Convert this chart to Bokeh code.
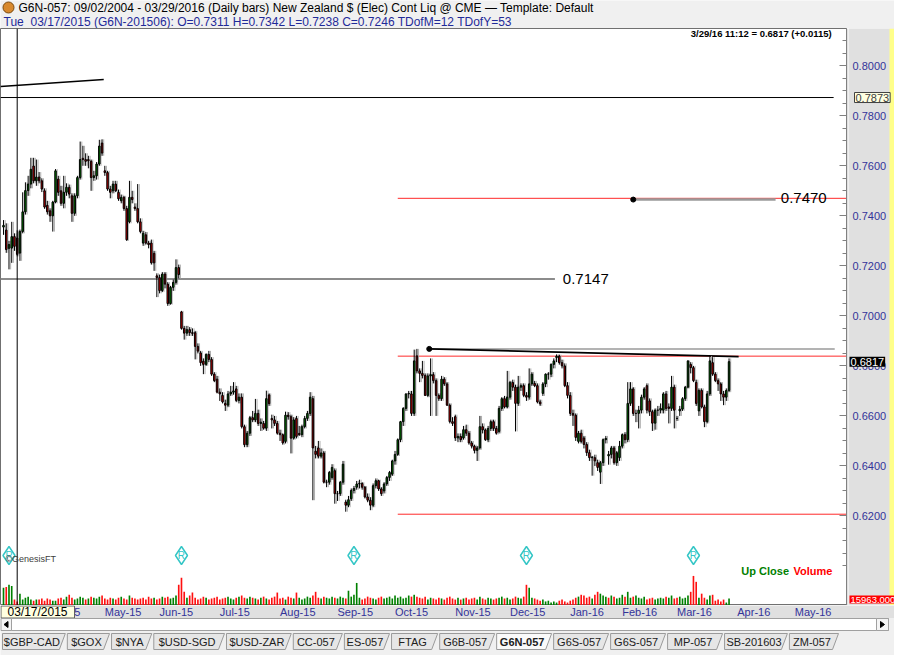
import numpy as np
import pandas as pd
from bokeh.plotting import figure
from bokeh.models import Range1d, FixedTicker, Label, Span, ColumnDataSource
from bokeh.layouts import column, row
from bokeh.core.properties import value
from bokeh.transform import dodge
from bokeh.embed import file_html
from bokeh.resources import INLINE

FONT = "Liberation Sans"

# ---------------- data ----------------
FIRST_DAY = "2015-03-10"
CAL_END = "2016-05-31"
HOLIDAYS = ["2015-04-03", "2015-05-25", "2015-07-03", "2015-09-07", "2015-11-26",
            "2015-12-25", "2016-01-01", "2016-01-18", "2016-02-15", "2016-03-25"]
MONTHS = ["2015-04", "2015-05", "2015-06", "2015-07", "2015-08", "2015-09", "2015-10",
          "2015-11", "2015-12", "2016-01", "2016-02", "2016-03", "2016-04", "2016-05"]
CURSOR_DATE = "2015-03-17"
ROLL_DATES = ["2015-03-12", "2015-06-11", "2015-09-10", "2015-12-09", "2016-03-09"]

# prices in 1/10000
OPEN = [7355,7343,7270,7271,7317,7311,7251,7337,7416,7501,
        7527,7599,7540,7555,7540,7500,7442,7420,7400,7455,
        7547,7500,7450,7494,7514,7480,7410,7480,7553,7630,
        7625,7625,7618,7553,7560,7607,7691,7580,7573,7507,
        7500,7527,7494,7460,7474,7429,7376,7474,7435,7429,
        7376,7291,7324,7291,7291,7250,7160,7153,7101,7167,
        7127,7049,7114,7134,7193,7016,6950,6931,6945,6933,
        6933,6878,6852,6819,6806,6846,6826,6767,6747,6695,
        6682,6650,6643,6688,6695,6708,6662,6675,6557,6485,
        6531,6593,6584,6610,6570,6570,6551,6684,6590,6584,
        6570,6531,6525,6498,6603,6597,6511,6590,6530,6525,
        6557,6590,6610,6669,6459,6472,6439,6452,6335,6335,
        6354,6381,6289,6289,6335,6256,6243,6269,6302,6315,
        6328,6330,6315,6276,6263,6243,6321,6341,6308,6300,
        6328,6354,6367,6420,6446,6505,6577,6630,6688,6688,
        6610,6840,6780,6770,6762,6682,6760,6765,6741,6682,
        6669,6747,6728,6643,6577,6597,6512,6518,6512,6545,
        6531,6492,6479,6462,6472,6557,6544,6505,6550,6577,
        6550,6538,6630,6669,6636,6675,6734,6715,6650,6715,
        6721,6682,6675,6728,6730,6721,6656,6690,6728,6767,
        6767,6806,6833,6839,6813,6800,6721,6682,6610,6603,
        6498,6531,6512,6486,6453,6433,6433,6413,6375,6413,
        6505,6440,6446,6472,6413,6433,6479,6525,6505,6650,
        6708,6610,6610,6623,6675,6721,6660,6617,6571,6623,
        6623,6623,6688,6636,6630,6715,6590,6620,6627,6669,
        6715,6806,6793,6734,6620,6702,6636,6577,6688,6813,
        6767,6741,6728,6688,6675,6702]
HIGH = [7383,7370,7300,7376,7330,7342,7345,7494,7534,7560,
        7632,7632,7625,7575,7550,7510,7460,7430,7460,7587,
        7560,7520,7560,7530,7525,7490,7490,7560,7697,7680,
        7650,7640,7625,7580,7615,7704,7706,7600,7580,7520,
        7540,7540,7505,7485,7480,7440,7540,7500,7450,7527,
        7390,7340,7335,7300,7305,7260,7170,7165,7175,7175,
        7135,7120,7145,7226,7205,7020,6960,6960,6955,6950,
        6940,6890,6860,6830,6850,6860,6835,6775,6760,6710,
        6695,6665,6700,6720,6735,6720,6690,6690,6565,6540,
        6600,6620,6668,6625,6590,6580,6701,6690,6605,6600,
        6580,6545,6530,6617,6615,6605,6595,6600,6560,6565,
        6600,6620,6695,6680,6480,6500,6470,6460,6345,6380,
        6407,6390,6300,6340,6420,6265,6280,6310,6320,6340,
        6345,6335,6320,6290,6275,6330,6350,6345,6315,6335,
        6360,6380,6425,6460,6510,6580,6635,6690,6700,6700,
        6865,6868,6790,6820,6770,6770,6830,6775,6750,6690,
        6760,6755,6735,6650,6595,6605,6530,6530,6560,6565,
        6540,6500,6485,6480,6600,6570,6550,6560,6585,6585,
        6560,6640,6675,6680,6780,6740,6745,6725,6760,6730,
        6730,6695,6790,6775,6740,6730,6665,6735,6770,6775,
        6810,6830,6846,6845,6825,6810,6735,6695,6625,6610,
        6540,6545,6520,6495,6465,6440,6445,6425,6420,6510,
        6520,6460,6480,6480,6460,6500,6530,6535,6735,6735,
        6715,6625,6640,6685,6715,6730,6670,6625,6630,6640,
        6650,6695,6700,6650,6760,6725,6600,6640,6675,6720,
        6822,6815,6800,6745,6710,6710,6645,6700,6839,6835,
        6775,6750,6735,6700,6710,6830]
LOW = [7324,7252,7186,7212,7260,7238,7220,7330,7405,7480,
       7510,7530,7520,7530,7495,7428,7405,7376,7337,7450,
       7480,7440,7430,7480,7470,7376,7400,7470,7545,7600,
       7600,7590,7500,7540,7545,7600,7640,7560,7500,7470,
       7490,7495,7460,7450,7420,7300,7370,7450,7420,7370,
       7330,7280,7285,7270,7205,7180,7075,7090,7095,7110,
       7040,7045,7100,7125,7150,6945,6905,6920,6920,6920,
       6826,6850,6800,6767,6800,6815,6760,6735,6690,6660,
       6650,6620,6635,6680,6685,6655,6650,6550,6475,6475,
       6520,6575,6575,6560,6540,6545,6540,6640,6550,6560,
       6525,6500,6485,6490,6585,6450,6505,6510,6520,6515,
       6550,6580,6600,6263,6430,6430,6430,6330,6315,6325,
       6345,6249,6260,6280,6325,6217,6235,6260,6290,6305,
       6310,6305,6270,6255,6223,6235,6310,6300,6280,6290,
       6320,6340,6360,6405,6440,6495,6560,6620,6670,6600,
       6600,6770,6735,6750,6680,6675,6600,6730,6600,6660,
       6660,6720,6640,6570,6560,6500,6495,6495,6505,6520,
       6485,6470,6450,6420,6465,6530,6500,6495,6540,6540,
       6525,6530,6620,6630,6630,6665,6700,6538,6640,6700,
       6675,6660,6665,6720,6715,6650,6640,6680,6715,6745,
       6755,6790,6815,6805,6790,6715,6670,6600,6560,6500,
       6490,6490,6470,6440,6420,6361,6400,6380,6328,6400,
       6490,6405,6430,6405,6400,6420,6470,6490,6495,6640,
       6600,6575,6550,6610,6665,6610,6600,6540,6545,6600,
       6610,6610,6620,6570,6620,6550,6580,6600,6620,6660,
       6710,6770,6735,6640,6600,6630,6555,6570,6680,6760,
       6735,6700,6660,6643,6660,6695]
CLOSE = [7362,7265,7285,7317,7278,7246,7337,7416,7501,7527,
         7586,7540,7555,7540,7507,7435,7416,7400,7455,7580,
         7494,7450,7494,7514,7487,7410,7480,7553,7625,7625,
         7618,7620,7553,7560,7607,7679,7651,7573,7507,7494,
         7527,7500,7468,7474,7429,7304,7474,7465,7429,7376,
         7337,7330,7291,7285,7212,7212,7153,7101,7167,7127,
         7049,7114,7134,7193,7165,6950,6931,6945,6933,6930,
         6878,6859,6813,6806,6846,6826,6767,6741,6695,6688,
         6656,6643,6688,6695,6700,6662,6675,6557,6485,6531,
         6593,6584,6610,6570,6575,6551,6669,6649,6584,6570,
         6531,6525,6492,6603,6597,6511,6584,6518,6525,6557,
         6590,6610,6675,6472,6446,6439,6452,6335,6335,6374,
         6394,6289,6289,6335,6407,6243,6265,6302,6310,6328,
         6330,6315,6276,6263,6243,6321,6341,6308,6289,6328,
         6354,6374,6420,6446,6505,6577,6630,6688,6690,6610,
         6820,6780,6770,6762,6682,6760,6765,6741,6682,6669,
         6747,6728,6643,6577,6570,6512,6518,6505,6545,6531,
         6492,6479,6462,6472,6557,6544,6505,6550,6577,6550,
         6531,6630,6669,6636,6675,6734,6715,6650,6715,6721,
         6682,6675,6728,6767,6721,6656,6648,6728,6767,6767,
         6806,6820,6839,6813,6800,6721,6682,6610,6603,6514,
         6531,6498,6486,6453,6433,6435,6420,6394,6413,6505,
         6510,6446,6472,6413,6453,6479,6525,6505,6650,6708,
         6610,6610,6623,6675,6708,6623,6617,6571,6623,6623,
         6630,6688,6630,6630,6715,6623,6590,6627,6669,6715,
         6820,6793,6741,6650,6702,6636,6577,6688,6820,6767,
         6741,6728,6688,6675,6702,6817]
# volume in thousands of contracts
VOLUME = [48,50,56,53,16,11,32,16,21,24,
          16,13,16,16,19,13,19,16,13,13,
          19,21,16,24,29,21,16,19,24,21,
          16,19,24,21,19,24,27,19,16,21,
          19,16,21,24,19,16,27,21,19,16,
          19,21,16,24,19,21,16,19,24,21,
          24,19,21,27,56,75,37,21,27,35,
          21,16,19,24,21,16,19,21,24,16,
          19,21,24,19,16,21,24,27,21,19,
          24,21,19,16,21,24,19,16,21,24,
          35,19,21,16,24,21,19,35,21,16,
          19,24,21,27,37,21,19,24,21,19,
          24,21,19,24,21,19,40,24,29,61,
          21,16,19,24,21,19,16,21,24,19,
          21,24,19,27,21,24,19,21,27,24,
          29,24,21,19,24,16,21,19,16,21,
          19,16,21,24,19,16,21,16,19,21,
          16,19,21,16,24,19,16,21,19,16,
          19,21,24,19,21,16,19,24,21,19,
          24,56,48,21,19,16,13,16,11,13,
          8,11,8,13,16,11,8,13,16,21,
          24,29,27,21,24,19,29,37,32,27,
          24,21,27,24,19,21,29,24,37,21,
          24,27,21,19,24,16,19,21,16,19,
          21,19,24,21,27,19,21,24,19,21,
          27,37,80,64,21,32,21,16,27,29,
          13,16,11,16,8,19]

PRICE_TICKS = [0.62, 0.64, 0.66, 0.68, 0.70, 0.72, 0.74, 0.76, 0.78, 0.80]
LAST_PRICE = 0.6817
LAST_VOL_LABEL = "15963.000"
LAST_VOL = 15.963
# drawn studies (x in bar index, y in price)
LEVEL_BLACK = 0.7873
LEVEL_BLACK_END = 303.2
TREND_TOP_X = [-1.1, 36.6]
TREND_TOP_Y = [0.7917, 0.7945]
LEVEL_GREY = 0.7147
LEVEL_GREY_END = 201.4
RED_LEVELS = [0.7470, 0.6839, 0.6207]
RED_START = 144
MARK_7470_X = [230, 282]
MARK_7470_Y = 0.7465
RES_GREY_X = [155.5, 303.6]
RES_GREY_Y = 0.6868
RES_TREND_X = [155.5, 268.5]
RES_TREND_Y = [0.6868, 0.6837]

TABS = ["$GBP-CAD", "$GOX", "$NYA", "$USD-SGD", "$USD-ZAR", "CC-057", "ES-057", "FTAG",
        "G6B-057", "G6N-057", "G6S-057", "G6S-057", "MP-057", "SB-201603", "ZM-057"]
TAB_EDGES = [0, 66, 111, 154, 228, 296, 348, 396, 445, 503, 561, 619, 677, 735, 801, 853]
ACTIVE_TAB = "G6N-057"

TITLE = "G6N-057:  09/02/2004 - 03/29/2016  (Daily bars)   New Zealand $ (Elec) Cont Liq @ CME  \u2014  Template: Default"
INFO_DAY = "Tue"
INFO = "03/17/2015 (G6N-201506):  O=0.7311  H=0.7342  L=0.7238  C=0.7246  TDofM=12  TDofY=53"
QUOTE = "3/29/16 11:12 = 0.6817 (+0.0115)"

# ---------------- calendar ----------------
hol = pd.to_datetime(HOLIDAYS)
cal = pd.bdate_range(FIRST_DAY, CAL_END)
cal = cal[~cal.isin(hol)]
n = min(len(OPEN), len(HIGH), len(LOW), len(CLOSE), len(VOLUME))
xs = np.arange(n)

def day_index(d):
    return int(np.searchsorted(cal.values, np.datetime64(pd.Timestamp(d))))

month_idx = [day_index(m + "-01") for m in MONTHS]
month_lab = [pd.Timestamp(m + "-01").strftime("%b-%y") for m in MONTHS]
cursor_idx = day_index(CURSOR_DATE)
roll_idx = [day_index(d) for d in ROLL_DATES]

o = np.array(OPEN[:n]) / 1e4
h = np.array(HIGH[:n]) / 1e4
l = np.array(LOW[:n]) / 1e4
c = np.array(CLOSE[:n]) / 1e4
v = np.array(VOLUME[:n], dtype=float)

GREEN = "#008000"
RED = "#CC0000"
VRED = "#FF1010"
up = c >= o
vup = np.r_[c[0] >= o[0], c[1:] >= c[:-1]]

src = ColumnDataSource(dict(x=xs, o=o, h=h, l=l, c=c,
                            top=np.maximum(o, c), bottom=np.minimum(o, c),
                            col=np.where(up, GREEN, RED), v=v,
                            vcol=np.where(vup, GREEN, VRED)))

# ---------------- layout sizes ----------------
TOTAL_W = 894
FW = 846
AXB = 2
SCALE_W = TOTAL_W - FW - AXB
STRIP_W = 5
FH = 577
HEAD_H = 28
BOT_H = 50
X0, X1 = -1.1, 307.9
Y0, Y1 = 0.5842, 0.8149
VOL_MAX = 1561.0
GREY_BG = "#E0E0E0"
LIGHT_BG = "#F0F0F0"

y_rng = Range1d(Y0, Y1)
vol_rng = Range1d(0, VOL_MAX)

# ---------------- header ----------------
hd = figure(width=TOTAL_W, height=HEAD_H, x_range=Range1d(0, TOTAL_W), y_range=Range1d(HEAD_H, 0),
            output_backend="svg", toolbar_location=None, x_axis_location=None, y_axis_location=None,
            min_border=0)
hd.grid.visible = False
hd.outline_line_color = None
hd.background_fill_color = LIGHT_BG
hd.border_fill_color = LIGHT_BG
hd.scatter([8], [7], size=11, fill_color="#D8892E", line_color="#7A4A10")
hd.text([18], [7.5], text=[TITLE], text_font=value(FONT), text_font_size="12px",
        text_color="#000000", text_baseline="middle")
hd.text([3], [21], text=[INFO_DAY], text_font=value(FONT), text_font_size="12px",
        text_color="#1F2A99", text_baseline="middle")
hd.text([30], [21], text=[INFO], text_font=value(FONT), text_font_size="12px",
        text_color="#1F2A99", text_baseline="middle")

# ---------------- main chart ----------------
p = figure(width=FW + AXB, height=FH, x_range=Range1d(X0, X1), y_range=y_rng,
           output_backend="svg", toolbar_location=None, x_axis_location=None,
           y_axis_location="right", min_border_left=0, min_border_right=AXB,
           min_border_top=0, min_border_bottom=0)
p.extra_y_ranges = {"vol": vol_rng}
p.grid.visible = False
p.background_fill_color = "#FFFFFF"
p.border_fill_color = GREY_BG
p.outline_line_color = "#707070"

# price axis: tick marks drawn here, its tick labels are drawn in the scale column
ax = p.yaxis[0]
ax.ticker = FixedTicker(ticks=PRICE_TICKS,
                        minor_ticks=[round(0.600 + 0.005 * k, 3) for k in range(44)])
ax.major_tick_in = 7
ax.major_tick_out = 0
ax.minor_tick_in = 4
ax.minor_tick_out = 0
ax.axis_line_color = "#808080"
ax.major_tick_line_color = "#808080"
ax.minor_tick_line_color = "#808080"
ax.major_label_text_color = None
ax.major_label_text_alpha = 0
ax.major_label_text_font_size = "0px"
ax.major_label_standoff = 0

# volume
p.vbar(x="x", width=0.6, top="v", bottom=0, source=src, y_range_name="vol",
       fill_color="vcol", line_color=None)

# study lines
p.segment(x0=[X0], y0=[LEVEL_BLACK], x1=[LEVEL_BLACK_END], y1=[LEVEL_BLACK],
          line_color="#000000", line_width=1)
p.line(TREND_TOP_X, TREND_TOP_Y, line_color="#000000", line_width=1.5)
p.segment(x0=[X0], y0=[LEVEL_GREY], x1=[LEVEL_GREY_END], y1=[LEVEL_GREY],
          line_color="#8C8C8C", line_width=2)
p.segment(x0=[RED_START] * len(RED_LEVELS), y0=RED_LEVELS, x1=[X1] * len(RED_LEVELS),
          y1=RED_LEVELS, line_color="#FF2A2A", line_width=1)
p.line(MARK_7470_X, [MARK_7470_Y] * 2, line_color="#9A9A9A", line_width=2.5)
p.scatter([MARK_7470_X[0]], [MARK_7470_Y], size=5, color="#000000")
p.line(RES_GREY_X, [RES_GREY_Y] * 2, line_color="#9A9A9A", line_width=1.5)
p.line(RES_TREND_X, RES_TREND_Y, line_color="#000000", line_width=1.6)
p.scatter([RES_TREND_X[0]], [RES_TREND_Y[0]], size=5, color="#000000")

# candles
p.segment(x0=dodge("x", 0.6, range=p.x_range), y0="l", x1=dodge("x", 0.6, range=p.x_range),
          y1="h", source=src, line_color="#AFAFAF", line_width=1)
p.segment(x0="x", y0="l", x1="x", y1="h", source=src, line_color="#000000", line_width=1)
p.vbar(x="x", width=0.55, top="top", bottom="bottom", source=src,
       fill_color="col", line_color="#000000", line_width=1)

# cursor
p.add_layout(Span(location=cursor_idx, dimension="height", line_color="#000000", line_width=1))

# rollover markers
p.scatter(roll_idx, [0.6042] * len(roll_idx), marker="diamond", size=18,
          fill_color="#FFFFFF", fill_alpha=0.0, line_color="#35C6C6", line_width=1.5)
p.text(roll_idx, [0.6042] * len(roll_idx), text=["R"] * len(roll_idx),
       text_font=value(FONT), text_font_size="10px", text_color="#35C6C6",
       text_align="center", text_baseline="middle")

# texts
p.add_layout(Label(x=0.7, y=0.6027, text="\u00a9GenesisFT", text_font=FONT,
                   text_font_size="9px", text_color="#404040", text_baseline="middle"))
p.add_layout(Label(x=LEVEL_GREY_END + 2.9, y=LEVEL_GREY, text="0.7147", text_font=FONT,
                   text_font_size="15px", text_color="#000000", text_baseline="middle"))
p.add_layout(Label(x=MARK_7470_X[1] + 1.9, y=RED_LEVELS[0], text="0.7470", text_font=FONT,
                   text_font_size="15px", text_color="#000000", text_baseline="middle"))
p.add_layout(Label(x=251, y=0.8128, text=QUOTE, text_font=FONT, text_font_size="9.5px",
                   text_font_style="bold", text_color="#000000", text_baseline="middle"))
p.add_layout(Label(x=269.5, y=0.598, text="Up Close", text_font=FONT, text_font_size="11px",
                   text_font_style="bold", text_color=GREEN, text_baseline="middle"))
p.add_layout(Label(x=288.5, y=0.598, text="Volume", text_font=FONT, text_font_size="11px",
                   text_font_style="bold", text_color="#FF0000", text_baseline="middle"))

# ---------------- price scale column (labels + value tags) ----------------
sc_fig = figure(width=SCALE_W, height=FH, x_range=Range1d(0, SCALE_W), y_range=y_rng,
                output_backend="svg", toolbar_location=None, x_axis_location=None,
                y_axis_location=None, min_border=0)
sc_fig.extra_y_ranges = {"vol": vol_rng}
sc_fig.grid.visible = False
sc_fig.outline_line_color = None
sc_fig.background_fill_color = GREY_BG
sc_fig.border_fill_color = GREY_BG
sc_fig.quad(left=[SCALE_W - STRIP_W], right=[SCALE_W], bottom=[Y0], top=[Y1],
            fill_color="#FFFF8A", line_color=None)
sc_fig.text([4] * len(PRICE_TICKS), PRICE_TICKS, text=[f"{t:.4f}" for t in PRICE_TICKS],
            text_font=value(FONT), text_font_size="11px", text_color="#333399",
            text_baseline="middle")
sc_fig.add_layout(Label(x=6, y=LEVEL_BLACK, text=f"{LEVEL_BLACK:.4f}", text_font=FONT,
                        text_font_size="11px", text_color="#404040", text_baseline="middle",
                        background_fill_color="#FFFFE1", border_line_color="#404040", padding=1))
sc_fig.add_layout(Label(x=1, y=LAST_PRICE, text=f"{LAST_PRICE:.4f}", text_font=FONT,
                        text_font_size="11px", text_color="#FFFFFF", text_baseline="middle",
                        background_fill_color="#000000", padding=1))
sc_fig.add_layout(Label(x=1, y=LAST_VOL, y_range_name="vol", text=LAST_VOL_LABEL,
                        text_font=FONT, text_font_size="9.5px", text_color="#FFFFFF",
                        text_baseline="middle", background_fill_color="#FF0000", padding=1))

# ---------------- bottom: date axis, scrollbar, tabs ----------------
BX1 = X0 + (X1 - X0) * TOTAL_W / FW
b = figure(width=TOTAL_W, height=BOT_H, x_range=Range1d(X0, BX1), y_range=Range1d(BOT_H, 0),
           output_backend="svg", toolbar_location=None, x_axis_location=None,
           y_axis_location=None, min_border=0)
b.extra_x_ranges = {"px": Range1d(0, TOTAL_W)}
b.grid.visible = False
b.outline_line_color = None
b.background_fill_color = LIGHT_BG
b.border_fill_color = LIGHT_BG

b.quad(left=[0], right=[TOTAL_W], top=[0], bottom=[12.5], x_range_name="px",
       fill_color=GREY_BG, line_color=None)
b.text(month_idx, [6.5] * len(month_idx), text=month_lab, text_font=value(FONT),
       text_font_size="11px", text_color="#333399", text_baseline="middle")
# cursor date box
b.quad(left=[0.5], right=[74], top=[0.5], bottom=[12.5], x_range_name="px",
       fill_color="#FFFFE1", line_color="#606060")
b.text([37], [6.8], text=[pd.Timestamp(CURSOR_DATE).strftime("%m/%d/%Y")], x_range_name="px",
       text_font=value(FONT), text_font_size="12px", text_color="#000000",
       text_align="center", text_baseline="middle")
# scrollbar
b.quad(left=[0.5], right=[TOTAL_W - 6], top=[13], bottom=[25], x_range_name="px",
       fill_color="#FFFFFF", line_color="#A0A0A0")
b.quad(left=[0.5, TOTAL_W - 18], right=[11, TOTAL_W - 6], top=[13, 13], bottom=[25, 25],
       x_range_name="px", fill_color="#F4F4F4", line_color="#A0A0A0")
b.patches([[3.5, 7.5, 7.5], [TOTAL_W - 14, TOTAL_W - 10, TOTAL_W - 14]],
          [[19, 16, 22], [16, 19, 22]], x_range_name="px", color="#000000")
# tabs
sc = TOTAL_W / 910.0
tx, ty = [], []
for i, name in enumerate(TABS):
    L = TAB_EDGES[i] * sc + 2
    R = TAB_EDGES[i + 1] * sc
    tx.append([L, R, R - 6, L])
    ty.append([28, 28, 44, 44])
fills = ["#FAFAFA" if t == ACTIVE_TAB else "#E6E6E6" for t in TABS]
b.patches(tx, ty, x_range_name="px", fill_color=fills, line_color="#9A9A9A")
centers = [(TAB_EDGES[i] + TAB_EDGES[i + 1]) * sc / 2 - 1 for i in range(len(TABS))]
styles = ["bold" if t == ACTIVE_TAB else "normal" for t in TABS]
b.text(centers, [36.5] * len(TABS), text=TABS, x_range_name="px", text_font=value(FONT),
       text_font_size="11px", text_color="#202020", text_align="center",
       text_baseline="middle", text_font_style=styles)

layout = column(hd, row(p, sc_fig), b)
open("out.html", "w").write(file_html(layout, INLINE))
